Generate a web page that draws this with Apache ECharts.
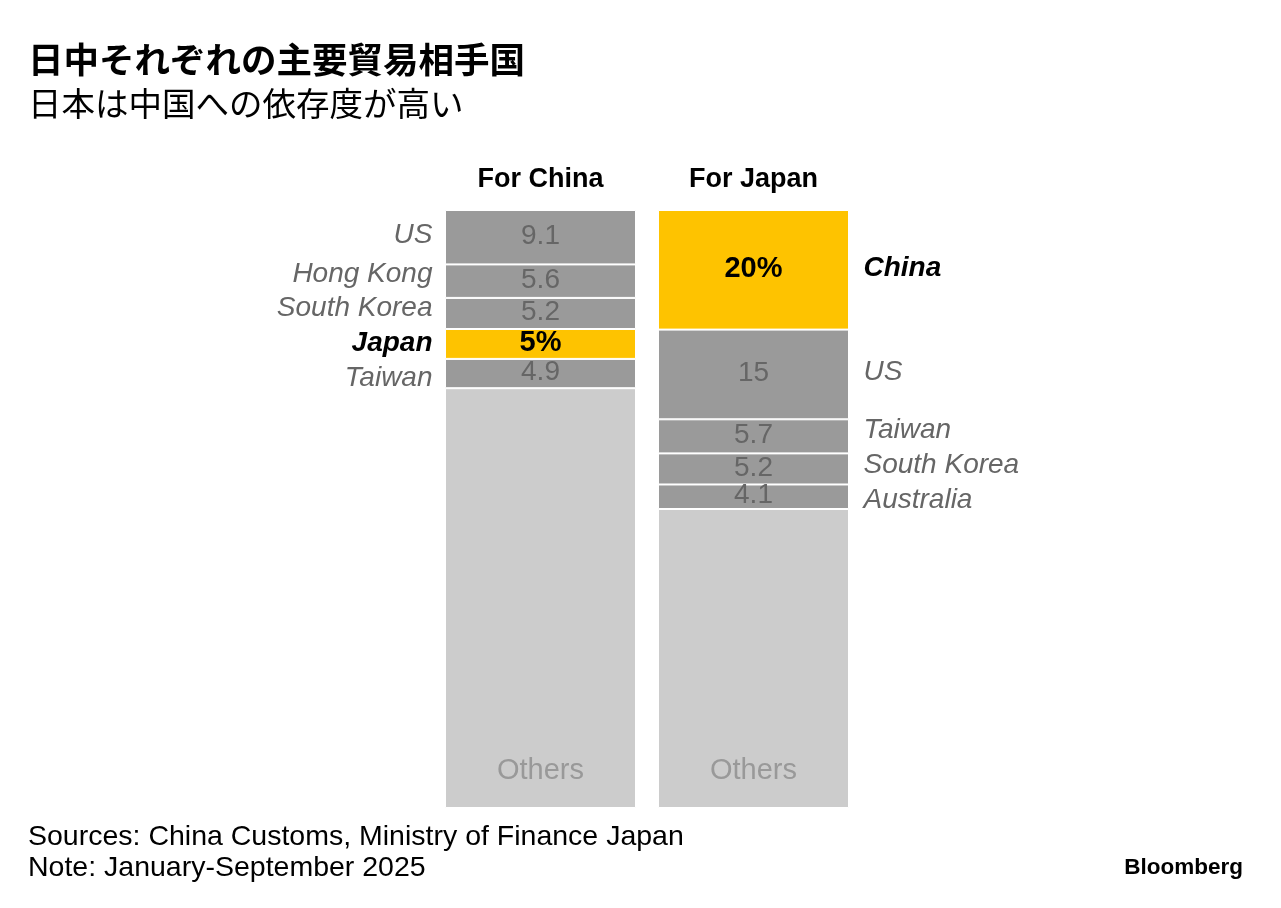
<!DOCTYPE html>
<html><head><meta charset="utf-8">
<script src="https://cdn.jsdelivr.net/npm/echarts@6/dist/echarts.min.js"></script>
<style>html,body{margin:0;padding:0;background:#fff}#c{width:1281px;height:908px}</style>
</head><body><div id="c"></div>
<script>
const bars = ['For China', 'For Japan'];
const chinaPartners = ['US', 'Hong Kong', 'South Korea', 'Japan', 'Taiwan'];
const chinaShares = [9.1, 5.6, 5.2, 5, 4.9];
const japanPartners = ['China', 'US', 'Taiwan', 'South Korea', 'Australia'];
const japanShares = [20, 15, 5.7, 5.2, 4.1];
const highlightChina = 'Japan';
const highlightJapan = 'China';
const othersLabel = 'Others';

const GRAY = '#9a9a9a', YELLOW = '#fec300', LIGHT = '#cccccc';
const LATIN = '"Liberation Sans", Arial, sans-serif';
const CJK = '"Noto Sans CJK JP", sans-serif';

function segItem(val, hl) {
  return {
    value: val,
    itemStyle: { color: hl ? YELLOW : GRAY },
    label: hl ? { formatter: val + '%', color: '#000', fontWeight: 'bold', fontSize: 29 } : {}
  };
}

const series = [];
for (let i = 0; i < 5; i++) {
  series.push({
    type: 'bar', stack: 'total', barWidth: 191,
    itemStyle: { borderColor: '#fff', borderWidth: 1 },
    label: { show: true, position: 'inside', offset: [0, -1], color: '#666', fontSize: 28, fontFamily: LATIN, formatter: p => String(p.value) },
    data: [segItem(chinaShares[i], chinaPartners[i] === highlightChina),
           segItem(japanShares[i], japanPartners[i] === highlightJapan)],
    emphasis: { disabled: true }
  });
}
const sum = a => a.reduce((s, v) => s + v, 0);
const othersVals = [+(100 - sum(chinaShares)).toFixed(1), +(100 - sum(japanShares)).toFixed(1)];
series.push({
  type: 'bar', stack: 'total', barWidth: 191,
  itemStyle: { color: LIGHT, borderColor: '#fff', borderWidth: 1 },
  label: { show: true, position: 'insideBottom', distance: 23, color: '#999', fontSize: 29, fontFamily: LATIN, formatter: othersLabel },
  data: othersVals,
  emphasis: { disabled: true }
});

// name labels placed by the axis scales (midpoint of each segment, spread apart so they don't collide)
const MIN_GAP = 5.8; // in axis units
function labelPositions(vals) {
  let acc = 0;
  const pos = vals.map(v => { const m = acc + v / 2; acc += v; return m; });
  for (let it = 0; it < 50; it++) {
    for (let i = 1; i < pos.length; i++) {
      const d = pos[i] - pos[i - 1];
      if (d < MIN_GAP) { const s = (MIN_GAP - d) / 2; pos[i - 1] -= s; pos[i] += s; }
    }
  }
  return pos;
}
const nameData = [];
function addNames(cat, names, vals, hl) {
  const pos = labelPositions(vals);
  names.forEach((n, i) => nameData.push([cat, pos[i], n, n === hl ? 1 : 0]));
}
addNames(0, chinaPartners, chinaShares, highlightChina);
addNames(1, japanPartners, japanShares, highlightJapan);

series.push({
  type: 'custom',
  silent: true,
  data: nameData,
  encode: { x: 0, y: 1 },
  renderItem: function (params, api) {
    const cat = api.value(0);
    const pt = api.coord([cat, api.value(1)]);
    const name = nameData[params.dataIndex][2];
    const hl = nameData[params.dataIndex][3] === 1;
    const left = cat === 0;
    return {
      type: 'text',
      style: {
        x: pt[0] + (left ? -108 : 110),
        y: pt[1] - 2,
        text: name,
        align: left ? 'right' : 'left',
        verticalAlign: 'middle',
        fill: hl ? '#000' : '#666',
        font: (hl ? 'italic bold ' : 'italic ') + '28px ' + LATIN
      }
    };
  }
});

const chart = echarts.init(document.getElementById('c'));
chart.setOption({
  animation: false,
  backgroundColor: '#fff',
  title: [
    { text: '日中それぞれの主要貿易相手国', left: 28, top: 42, padding: 0, textStyle: { fontFamily: CJK, fontSize: 35.5, fontWeight: 'bold', color: '#000' } },
    { text: '日本は中国への依存度が高い', left: 28, top: 87, padding: 0, textStyle: { fontFamily: CJK, fontSize: 33.5, fontWeight: 'normal', color: '#000' } },
    { text: 'Sources: China Customs, Ministry of Finance Japan\nNote: January-September 2025', left: 28, top: 822, padding: 0,
      textStyle: { fontFamily: LATIN, fontSize: 28.5, fontWeight: 'normal', color: '#000', lineHeight: 31 } },
    { text: 'Bloomberg', right: 38, top: 856, padding: 0, textStyle: { fontFamily: LATIN, fontSize: 22.5, fontWeight: 'bold', color: '#000' } }
  ],
  grid: { left: 434, width: 426, top: 210, height: 598 },
  xAxis: {
    type: 'category', data: bars, position: 'top',
    axisLine: { show: false }, axisTick: { show: false },
    axisLabel: { margin: 17, fontFamily: LATIN, fontSize: 27, fontWeight: 'bold', color: '#000' }
  },
  yAxis: { type: 'value', min: 0, max: 100, inverse: true, show: false },
  series: series
});
</script></body></html>
